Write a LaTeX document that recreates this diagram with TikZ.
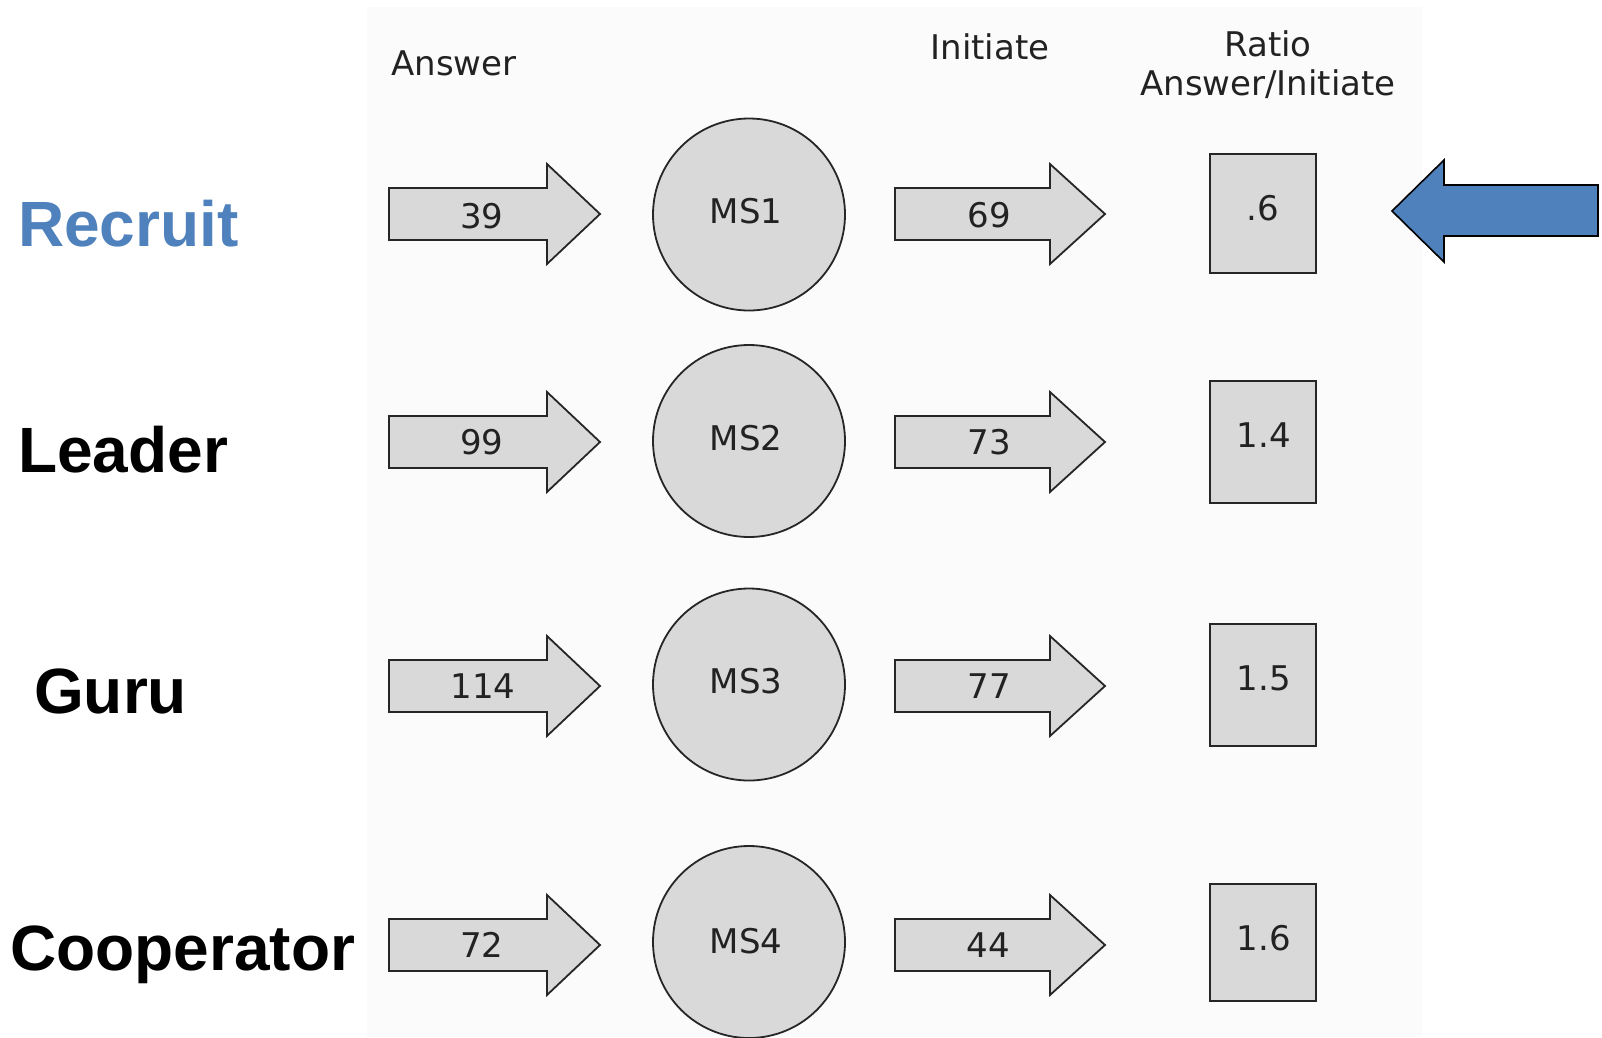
\documentclass[tikz,border=0pt]{standalone}
\usepackage{fontspec}
\setmainfont{DejaVu Sans}
\newfontfamily\labfont{Liberation Sans}
\definecolor{panel}{HTML}{FBFBFB}
\definecolor{shapegray}{HTML}{D9D9D9}
\definecolor{txt}{HTML}{222222}
\definecolor{recblue}{HTML}{4F81BD}
\newcommand\fatarrow[4]{%
  \draw[gshape] (#1,#4-26) -- (#2,#4-26) -- (#2,#4-50) -- (#3,#4) -- (#2,#4+50) -- (#2,#4+26) -- (#1,#4+26) -- cycle;}
\begin{document}
\begin{tikzpicture}[x=1pt,y=-1pt,
  gshape/.style={fill=shapegray, draw=black!85, line width=1.8pt},
  small/.style={font=\fontsize{34}{40}\selectfont, text=txt, inner sep=0, anchor=base},
  rowlab/.style={font=\labfont\bfseries\fontsize{64}{70}\selectfont, inner sep=0, anchor=base west},
  ms/.style={gshape, circle, minimum size=192pt, inner sep=0},
  ratiobox/.style={gshape, rectangle, minimum width=106pt, inner sep=0}]
\useasboundingbox (0,0) rectangle (1602,1037);
\fill[white] (0,0) rectangle (1602,1037);
\fill[panel] (367,7) rectangle (1422,1037);

% headers
\node[small] (hA) at (454,75) {Answer};
\node[small] (hI) at (990,59) {Initiate};
\node[small] (hR) at (1268,56) {Ratio};
\node[small] (hR2) at (1268,95) {Answer/Initiate};

% row labels
\node[rowlab, text=recblue] (l1) at (18,246) {Recruit};
\node[rowlab] (l2) at (18,472) {Leader};
\node[rowlab] (l3) at (34,713) {Guru};
\node[rowlab] (l4) at (10,970) {Cooperator};

% row 1
\fatarrow{389}{547}{600}{214}
\fatarrow{895}{1050}{1105}{214}
\node[ms] (c1) at (749,214.5) {};
\node[ratiobox, minimum height=119pt] (b1) at (1263,213.5) {};
\node[small] (a1) at (482,228) {39};
\node[small] (m1) at (746,223.5) {MS1};
\node[small] (i1) at (989,227.5) {69};
\node[small] (r1) at (1263,220.5) {.6};

% row 2
\fatarrow{389}{547}{600}{442}
\fatarrow{895}{1050}{1105}{442}
\node[ms] (c2) at (749,441) {};
\node[ratiobox, minimum height=122pt] (b2) at (1263,442) {};
\node[small] (a2) at (482,454.5) {99};
\node[small] (m2) at (746,450.5) {MS2};
\node[small] (i2) at (989,454.5) {73};
\node[small] (r2) at (1264,447.5) {1.4};

% row 3
\fatarrow{389}{547}{600}{686}
\fatarrow{895}{1050}{1105}{686}
\node[ms] (c3) at (749,684.5) {};
\node[ratiobox, minimum height=122pt] (b3) at (1263,685) {};
\node[small] (a3) at (483,698.5) {114};
\node[small] (m3) at (746,693.5) {MS3};
\node[small] (i3) at (989,698.5) {77};
\node[small] (r3) at (1264,690.5) {1.5};

% row 4
\fatarrow{389}{547}{600}{945}
\fatarrow{895}{1050}{1105}{945}
\node[ms] (c4) at (749,942) {};
\node[ratiobox, minimum height=117pt] (b4) at (1263,942.5) {};
\node[small] (a4) at (482,957.5) {72};
\node[small] (m4) at (746,953.5) {MS4};
\node[small] (i4) at (988,957.5) {44};
\node[small] (r4) at (1264,950.5) {1.6};

% blue pointer
\draw[fill=recblue, draw=black, line width=1.6pt]
  (1392,211) -- (1444,160) -- (1444,185) -- (1598,185) -- (1598,236) -- (1444,236) -- (1444,262) -- cycle;
\end{tikzpicture}
\end{document}
